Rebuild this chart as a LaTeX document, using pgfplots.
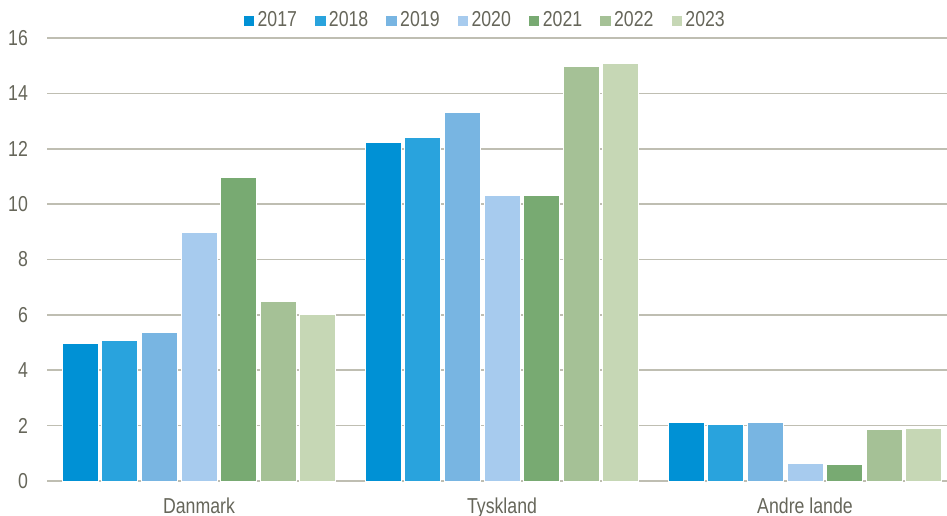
\documentclass[border=0pt]{standalone}
\usepackage{fontspec}
\setmainfont{Liberation Sans}[FakeStretch=0.82]
\usepackage{pgfplots}
\pgfplotsset{compat=1.18}
\definecolor{c17}{HTML}{0091D5}
\definecolor{c18}{HTML}{29A3DD}
\definecolor{c19}{HTML}{78B5E2}
\definecolor{c20}{HTML}{A7CBEE}
\definecolor{c21}{HTML}{78AA72}
\definecolor{c22}{HTML}{A5C196}
\definecolor{c23}{HTML}{C6D7B5}
\definecolor{txt}{HTML}{66665A}
\definecolor{gridc}{HTML}{BFBEB2}
\begin{document}
\fontsize{10.8}{13}\selectfont
\begin{tikzpicture}
\begin{axis}[
  width=454.5pt, height=221.5pt, scale only axis,
  ybar=1.8pt, bar width=18pt,
  xmin=-0.5, xmax=2.5, ymin=0, ymax=16,
  xtick={0,1,2}, xticklabels={Danmark,Tyskland,Andre lande},
  ytick={0,2,...,16},
  ymajorgrids, grid style={gridc, line width=0.8pt},
  axis x line*=bottom, axis y line*=left,
  y axis line style={draw=none},
  x axis line style={gridc, line width=0.8pt},
  major tick length=0pt,
  tick label style={text=txt, font=\fontsize{10.8}{13}\selectfont},
  /pgf/number format/assume math mode=true,
  yticklabel style={xshift=-6pt},
  xticklabel style={yshift=-4.5pt},
  legend columns=-1,
  legend style={draw=none, fill=none, at={(0.4813,1)}, anchor=center, yshift=8.5pt,
    text=txt, font=\fontsize{10.8}{13}\selectfont,
    nodes={inner xsep=1.2pt, inner ysep=1pt},
    /tikz/every even column/.append style={column sep=7.3pt}},
  legend image code/.code={\fill[#1] (0pt,-2.875pt) rectangle (5.75pt,2.875pt);},
  every axis plot/.append style={draw=white, line width=0.5pt},
]
\addplot[fill=c17] coordinates {(0,4.97) (1,12.23) (2,2.12)};
\addplot[fill=c18] coordinates {(0,5.09) (1,12.42) (2,2.05)};
\addplot[fill=c19] coordinates {(0,5.37) (1,13.31) (2,2.10)};
\addplot[fill=c20] coordinates {(0,8.98) (1,10.32) (2,0.63)};
\addplot[fill=c21] coordinates {(0,10.97) (1,10.32) (2,0.60)};
\addplot[fill=c22] coordinates {(0,6.50) (1,14.98) (2,1.87)};
\addplot[fill=c23] coordinates {(0,6.03) (1,15.09) (2,1.90)};
\legend{2017,2018,2019,2020,2021,2022,2023}
\node[anchor=base west, text=txt, inner sep=0pt, xshift=2.75pt, yshift=3pt] at (rel axis cs:0,1) {Mio.};
\coordinate (O) at (rel axis cs:0,0);
\end{axis}
\pgfresetboundingbox
\useasboundingbox ([xshift=-23.75pt,yshift=-17pt]O) rectangle ([xshift=449.75pt,yshift=240.5pt]O);
\end{tikzpicture}
\end{document}
